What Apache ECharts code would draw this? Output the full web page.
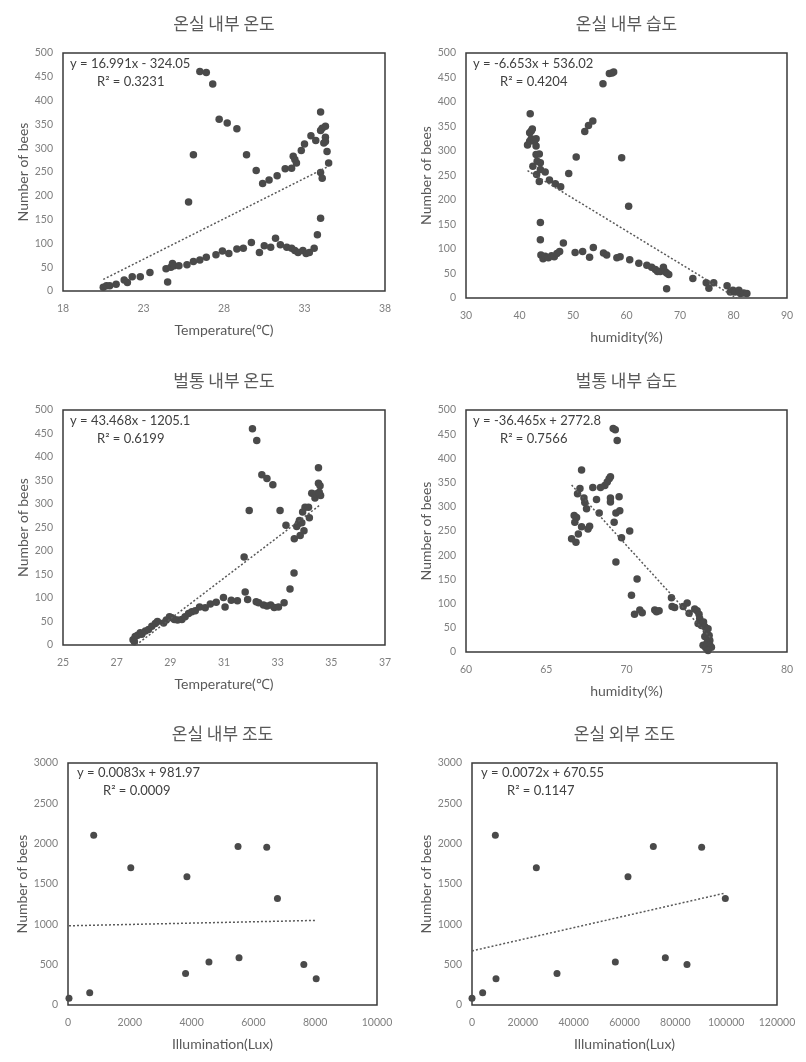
<!DOCTYPE html>
<html>
<head>
<meta charset="utf-8">
<script src="https://cdn.jsdelivr.net/npm/echarts@6/dist/echarts.min.js"></script>
<style>
  html, body { margin: 0; padding: 0; background: #fff; }
  #chart { width: 806px; height: 1062px; }
</style>
</head>
<body>
<div id="chart"></div>
<script>
// panel titles / axis names
const titles = ["온실 내부 온도", "온실 내부 습도", "벌통 내부 온도", "벌통 내부 습도", "온실 내부 조도", "온실 외부 조도"];
const xNames = ["Temperature(℃)", "humidity(%)", "Temperature(℃)", "humidity(%)", "Illumination(Lux)", "Illumination(Lux)"];
const equations = ["y = 16.991x - 324.05", "y = -6.653x + 536.02", "y = 43.468x - 1205.1", "y = -36.465x + 2772.8", "y = 0.0083x + 981.97", "y = 0.0072x + 670.55"];
const rSquared = ["R² = 0.3231", "R² = 0.4204", "R² = 0.6199", "R² = 0.7566", "R² = 0.0009", "R² = 0.1147"];
const slopes = [16.991, -6.653, 43.468, -36.465, 0.0083, 0.0072];
const intercepts = [-324.05, 536.02, -1205.1, 2772.8, 981.97, 670.55];

// axis ranges
const xMin = [18, 30, 25, 60, 0, 0];
const xMax = [38, 90, 37, 80, 10000, 120000];
const xStep = [5, 10, 2, 5, 2000, 20000];
const yMax = [500, 500, 500, 500, 3000, 3000];
const yStep = [50, 50, 50, 50, 500, 500];

// 온실 내부 온도
const greenTempX = [20.5, 20.7, 20.9, 21.3, 21.8, 22.0, 22.3, 22.8, 23.4, 24.4, 24.5, 24.7, 24.8, 24.9, 25.2, 25.7, 26.1, 26.5, 26.9, 27.5, 27.9, 28.3, 28.8, 29.2, 29.7, 30.2, 30.5, 30.9, 31.2, 31.5, 31.9, 32.2, 32.4, 32.6, 32.9, 33.1, 33.3, 33.6, 33.8, 34.0,
  25.8, 26.1, 26.5, 26.9, 27.3, 27.7, 28.2, 28.8, 29.4, 30.0, 30.4, 30.8, 31.3, 31.8, 32.2, 32.3, 32.4, 32.5, 32.8, 33.0, 33.4, 33.7, 34.0, 34.0, 34.1, 34.3, 34.0, 34.1, 34.3, 34.3, 34.2, 34.4, 34.5];
const greenTempY = [8, 11, 11, 14, 23, 18, 30, 30, 39, 47, 19, 50, 58, 53, 53, 55, 62, 65, 71, 76, 84, 79, 88, 90, 102, 81, 95, 92, 111, 97, 92, 90, 85, 81, 85, 79, 81, 90, 118, 153,
  187, 286, 461, 459, 435, 361, 353, 341, 286, 253, 226, 233, 242, 257, 258, 283, 276, 269, 295, 309, 326, 316, 376, 337, 342, 346, 249, 237, 323, 314, 311, 293, 269];

// 온실 내부 습도
const greenHumX = [42.0, 41.5, 41.9, 41.9, 42.2, 42.4, 42.2, 42.8, 43.1, 43.1, 42.5, 43.1, 43.7, 43.3, 43.9, 43.2, 43.7, 43.9, 44.8, 45.6, 46.7, 47.7, 49.2, 50.6, 52.2, 52.9, 53.7, 55.6, 56.8, 57.3, 57.6, 59.1, 60.4,
  43.9, 43.9, 44.0, 44.4, 44.8, 45.4, 46.0, 46.5, 47.0, 47.5, 48.2, 50.4, 51.8, 53.1, 53.8, 55.7, 56.3, 58.2, 58.8, 60.6, 62.3, 63.8, 64.7, 65.4, 65.8, 66.3, 66.9, 67.2, 67.5, 67.9, 67.5, 72.4, 74.9, 75.4, 76.3, 78.8, 79.4, 79.9, 80.3, 81.0, 81.3, 81.9, 82.5];
const greenHumY = [376, 312, 320, 337, 341, 345, 325, 320, 325, 310, 269, 293, 294, 279, 276, 252, 238, 262, 257, 241, 233, 227, 254, 288, 340, 352, 361, 437, 458, 459, 461, 286, 187,
  154, 119, 88, 80, 85, 82, 86, 84, 91, 95, 112, 93, 95, 83, 103, 92, 88, 82, 84, 78, 71, 67, 63, 58, 54, 54, 63, 54, 51, 48, 19, 40, 31, 20, 31, 25, 12, 16, 12, 16, 9, 10, 9];

// 벌통 내부 온도
const hiveTempX = [27.61, 27.66, 27.69, 27.78, 27.88, 27.94, 28.07, 28.19, 28.31, 28.44, 28.52, 28.75, 28.85, 28.97, 29.06, 29.15, 29.27, 29.43, 29.55, 29.68, 29.8, 29.93, 30.09, 30.3, 30.49, 30.71, 30.98, 31.04, 31.27, 31.5, 31.79, 31.88, 32.2, 32.29, 32.47, 32.6, 32.74, 32.87, 33.03, 33.24, 33.46, 33.61,
  31.75, 31.94, 32.06, 32.22, 32.41, 32.6, 32.82, 33.09, 33.31, 33.62, 33.71, 33.77, 33.81, 33.9, 33.84, 33.98, 33.93, 34.02, 34.15, 34.18, 34.27, 34.39, 34.45, 34.52, 34.52, 34.58, 34.6, 34.55];
const hiveTempY = [11, 7, 18, 21, 26, 23, 30, 33, 40, 46, 50, 47, 53, 60, 58, 54, 53, 54, 60, 67, 71, 73, 81, 79, 87, 91, 101, 81, 95, 94, 113, 97, 92, 90, 85, 83, 85, 80, 81, 90, 119, 153,
  187, 286, 460, 435, 362, 354, 341, 286, 255, 226, 252, 258, 265, 260, 233, 243, 283, 293, 293, 271, 323, 313, 322, 377, 344, 339, 318, 325];

// 벌통 내부 습도
const hiveHumX = [66.58, 66.85, 66.74, 66.78, 66.89, 67.0, 66.95, 67.1, 67.2, 67.2, 67.35, 67.4, 67.51, 67.6, 67.7, 67.9, 68.13, 68.3, 68.38, 68.65, 68.8, 68.92, 69.0, 69.0, 69.0, 69.17, 69.3, 69.42, 69.23, 69.34, 69.54, 69.58, 69.69, 69.34, 70.2,
  70.31, 70.66, 70.5, 70.83, 70.98, 71.76, 71.87, 72.03, 72.8, 72.84, 73.0, 73.53, 73.78, 73.9, 74.25, 74.4, 74.52, 74.56, 74.46, 74.67, 74.8, 74.88, 74.98, 75.08, 75.15, 75.19, 74.77, 74.94, 75.02, 75.19, 75.29, 75.08, 74.88];
const hiveHumY = [234, 227, 282, 268, 278, 244, 327, 338, 376, 259, 318, 309, 296, 254, 260, 340, 315, 287, 340, 344, 351, 358, 362, 318, 310, 462, 459, 437, 268, 287, 321, 292, 236, 186, 250,
  117, 151, 78, 87, 81, 87, 83, 85, 112, 94, 92, 94, 101, 80, 89, 85, 78, 69, 59, 55, 62, 52, 43, 48, 34, 24, 14, 9, 19, 14, 10, 3, 32];

// 조도 (bees count shared by both illumination panels)
const luxInX = [32, 703, 832, 2032, 3805, 3849, 4562, 5503, 5535, 6432, 6778, 7632, 8032];
const luxInY = [83, 153, 2105, 1700, 392, 1589, 532, 1964, 586, 1956, 1321, 503, 326];
const luxOutX = [0, 4197, 9443, 9180, 25311, 33443, 56393, 61377, 71344, 76066, 84590, 90361, 99672];
const luxOutY = [83, 153, 326, 2105, 1700, 392, 532, 1589, 1964, 586, 503, 1956, 1321];

const xsAll = [greenTempX, greenHumX, hiveTempX, hiveHumX, luxInX, luxOutX];
const ysAll = [greenTempY, greenHumY, hiveTempY, hiveHumY, luxInY, luxOutY];

// grid boxes in px
const grids = [
  { left: 63, top: 53, width: 322, height: 238 },
  { left: 466, top: 53, width: 321, height: 245 },
  { left: 63, top: 410, width: 322, height: 235 },
  { left: 466, top: 410, width: 321, height: 242 },
  { left: 68, top: 763, width: 309, height: 242 },
  { left: 472, top: 763, width: 305, height: 242 }
];

const txt = '#595959';
const mark = '#4a4a4a';
const numFont = 'Lato, "Open Sans", sans-serif';
const krFont = '"Noto Sans CJK KR", sans-serif';

function trend(i) {
  const xs = xsAll[i];
  let a = Math.min(...xs), b = Math.max(...xs);
  const m = slopes[i], c = intercepts[i];
  // keep the line above zero like the original
  const z = -c / m;
  if (m > 0 && m * a + c < 0) a = z;
  if (m < 0 && m * b + c < 0) b = z;
  return [[a, m * a + c], [b, m * b + c]];
}

const option = {
  backgroundColor: '#fff',
  animation: false,
  title: [],
  grid: [],
  xAxis: [],
  yAxis: [],
  series: []
};

grids.forEach((g, i) => {
  const lux = i >= 4;
  option.grid.push({
    left: g.left, top: g.top, width: g.width, height: g.height,
    show: true, borderColor: '#3a3a3a', borderWidth: 1.5, backgroundColor: '#fff'
  });
  option.title.push({
    text: titles[i], padding: 0,
    left: g.left + g.width / 2, top: g.top - 38, textAlign: 'center',
    textStyle: { fontFamily: krFont, fontSize: 17, fontWeight: 'normal', color: txt }
  });
  option.title.push({
    text: equations[i], padding: 0,
    left: g.left + (lux ? 9 : 7), top: g.top + (lux ? 3 : 4),
    textStyle: { fontFamily: numFont, fontSize: 13, fontWeight: 'normal', color: '#404040' }
  });
  option.title.push({
    text: rSquared[i], padding: 0,
    left: g.left + (lux ? 35 : 34), top: g.top + (lux ? 21 : 22),
    textStyle: { fontFamily: numFont, fontSize: 13, fontWeight: 'normal', color: '#404040' }
  });
  option.xAxis.push({
    gridIndex: i, type: 'value',
    min: xMin[i], max: xMax[i], interval: xStep[i],
    name: xNames[i], nameLocation: 'middle', nameGap: 32,
    nameTextStyle: { fontFamily: numFont, fontSize: 14, color: txt },
    axisLine: { show: false }, axisTick: { show: false }, splitLine: { show: false },
    axisLabel: { fontFamily: numFont, fontSize: 10.5, color: '#7f7f7f', margin: 12, formatter: v => String(v) }
  });
  option.yAxis.push({
    gridIndex: i, type: 'value',
    min: 0, max: yMax[i], interval: yStep[i],
    name: 'Number of bees', nameLocation: 'middle', nameRotate: 90, nameGap: lux ? 38 : 32,
    nameTextStyle: { fontFamily: numFont, fontSize: 14, color: txt },
    axisLine: { show: false }, axisTick: { show: false }, splitLine: { show: false },
    axisLabel: { fontFamily: numFont, fontSize: 10.5, color: '#7f7f7f', margin: 10, formatter: v => String(v) }
  });
  option.series.push({
    type: 'line', xAxisIndex: i, yAxisIndex: i,
    data: trend(i), symbol: 'none', silent: true,
    lineStyle: { type: [2, 2], color: '#595959', width: 1.5 }
  });
  option.series.push({
    type: 'scatter', xAxisIndex: i, yAxisIndex: i,
    data: xsAll[i].map((x, k) => [x, ysAll[i][k]]),
    symbolSize: lux ? 7 : 7.5,
    itemStyle: { color: mark, opacity: 1 }
  });
});

const chart = echarts.init(document.getElementById('chart'));
chart.setOption(option);
</script>
</body>
</html>
